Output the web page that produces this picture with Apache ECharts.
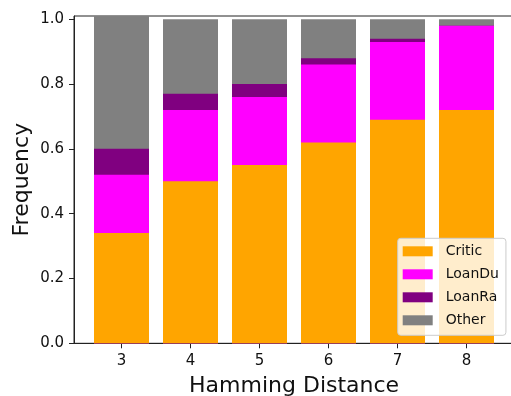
<!DOCTYPE html>
<html>
<head>
<meta charset="utf-8">
<script src="https://cdn.jsdelivr.net/npm/echarts@6/dist/echarts.min.js"></script>
<style>html,body{margin:0;padding:0;background:#fff}#c{width:511px;height:396px}</style>
</head>
<body>
<div id="c"></div>
<script>
const categories = [3, 4, 5, 6, 7, 8];
const critic = [0.34, 0.50, 0.55, 0.62, 0.69, 0.72];
const loanDu = [0.18, 0.22, 0.21, 0.24, 0.24, 0.26];
const loanRa = [0.08, 0.05, 0.04, 0.02, 0.01, 0.00];
const other = [0.41, 0.23, 0.20, 0.12, 0.06, 0.02];
const yTicks = [0, 0.2, 0.4, 0.6, 0.8, 1.0];

const font = 'DejaVu Sans';
const layers = [
  {name: 'Critic', vals: critic, color: '#FFA500'},
  {name: 'LoanDu', vals: loanDu, color: '#FF00FF'},
  {name: 'LoanRa', vals: loanRa, color: '#800080'},
  {name: 'Other', vals: other, color: '#808080'}
];
// cumulative tops (stack drawn by overlapping bars from the base)
let running = categories.map(() => 0);
const series = layers.map((l) => {
  running = running.map((r, i) => r + l.vals[i]);
  const tops = running.slice();
  return {
    name: l.name, type: 'bar', barWidth: 55, barGap: '-100%',
    z: 2,
    itemStyle: {color: l.color},
    data: categories.map((c, i) => [c, tops[i]])
  };
}).reverse();

const xMin = 2.3116, xMax = 8.6916;
const gridLeft = 74, pxPerUnit = 69;
const gridRight = 511 - gridLeft - (xMax - xMin) * pxPerUnit;

const chart = echarts.init(document.getElementById('c'), null, {renderer: 'canvas'});
chart.setOption({
  animation: false,
  textStyle: {fontFamily: font},
  grid: {left: gridLeft, top: 16, right: gridRight, bottom: 52.7, outerBoundsMode: 'none', containLabel: false,
    show: true, borderColor: '#222', borderWidth: 1},
  xAxis: {
    type: 'value', min: xMin, max: xMax,
    name: 'Hamming Distance', nameLocation: 'middle', nameGap: 32, nameMoveOverlap: false,
    nameTextStyle: {fontFamily: font, fontSize: 22, color: '#111'},
    axisLine: {show: true, lineStyle: {color: '#222', width: 1}},
    axisTick: {show: true, length: 5, customValues: categories, lineStyle: {color: '#222'}},
    axisLabel: {customValues: categories, fontFamily: font, fontSize: 15, color: '#111', margin: 10},
    splitLine: {show: false}
  },
  yAxis: {
    type: 'value', min: 0, max: 1.01,
    name: 'Frequency', nameLocation: 'middle', nameGap: 41, nameMoveOverlap: false,
    nameTextStyle: {fontFamily: font, fontSize: 22, color: '#111'},
    axisLine: {show: true, lineStyle: {color: '#222', width: 1}},
    axisTick: {show: true, length: 5, customValues: yTicks, lineStyle: {color: '#222'}},
    axisLabel: {customValues: yTicks, fontFamily: font, fontSize: 15, color: '#111', margin: 10,
      formatter: v => v.toFixed(1)},
    splitLine: {show: false}
  },
  legend: {
    z: 50,
    left: 397.7, top: 238.3, orient: 'vertical',
    data: layers.map(l => l.name),
    icon: 'rect', itemWidth: 30, itemHeight: 10, itemGap: 9,
    padding: [6, 7, 8, 5],
    backgroundColor: 'rgba(255,255,255,0.8)', borderColor: '#ccc', borderWidth: 1, borderRadius: 3,
    textStyle: {fontFamily: font, fontSize: 14, color: '#111', lineHeight: 14, padding: [0, 0, 0, 8]}
  },
  series: series
});
</script>
</body>
</html>
